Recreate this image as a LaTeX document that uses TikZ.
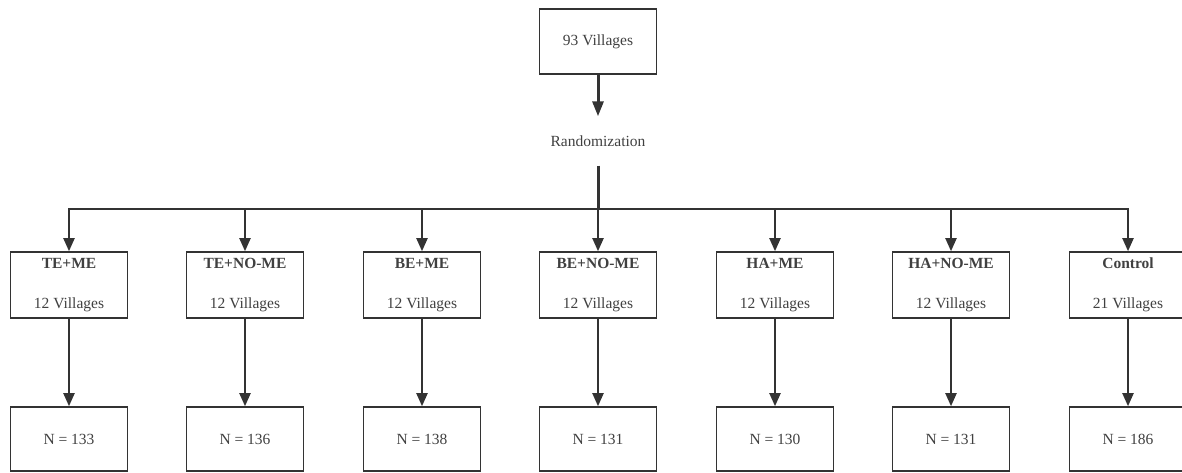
\documentclass[tikz,border=0pt]{standalone}
\usepackage{fontspec}
\setmainfont{Liberation Serif}
\usetikzlibrary{arrows.meta}
\definecolor{linec}{HTML}{333333}
\definecolor{textc}{HTML}{404040}
\tikzset{
  box/.style={draw=linec, line width=1.6pt, minimum width=117pt, text=textc, inner sep=0pt},
  grpbox/.style={box, minimum height=66pt, align=center, font=\fontsize{15.5}{40}\selectfont},
  nbox/.style={box, minimum height=64pt, font=\fontsize{15.5}{18}\selectfont},
  topbox/.style={box, minimum height=65pt, font=\fontsize{15.5}{18}\selectfont},
  conn/.style={draw=linec, line width=2pt, -{Triangle[width=11pt,length=13pt]}},
  bigconn/.style={draw=linec, line width=3pt, -{Triangle[width=11pt,length=15pt]}},
}
\begin{document}
\begin{tikzpicture}[x=1pt,y=-1pt]
\clip (0,0) rectangle (1182,472);
\node[topbox] (top) at (598,41.5) {93 Villages};
\node[minimum height=49pt, inner sep=0pt, text=textc, font=\fontsize{15.5}{18}\selectfont] (rand) at (598,141) {Randomization};
\coordinate (hub) at (598,209);
\foreach \i/\x/\name/\v/\n in {1/69/TE+ME/12/133, 2/245/TE+NO-ME/12/136, 3/422/BE+ME/12/138, 4/598/BE+NO-ME/12/131, 5/775/HA+ME/12/130, 6/951/HA+NO-ME/12/131, 7/1128/Control/21/186}{
  \node[grpbox] (g\i) at (\x,285) {\textbf{\name}\\\v{} Villages};
  \node[nbox] (n\i) at (\x,439) {N = \n};
  \draw[conn] (g\i) -- (n\i);
}
\draw[bigconn] (top) -- (rand);
\draw[draw=linec, line width=3pt] (rand.south) -- (hub);
\foreach \i in {1,...,7}{
  \draw[conn] (hub) -| (g\i.north);
}
\end{tikzpicture}
\end{document}
